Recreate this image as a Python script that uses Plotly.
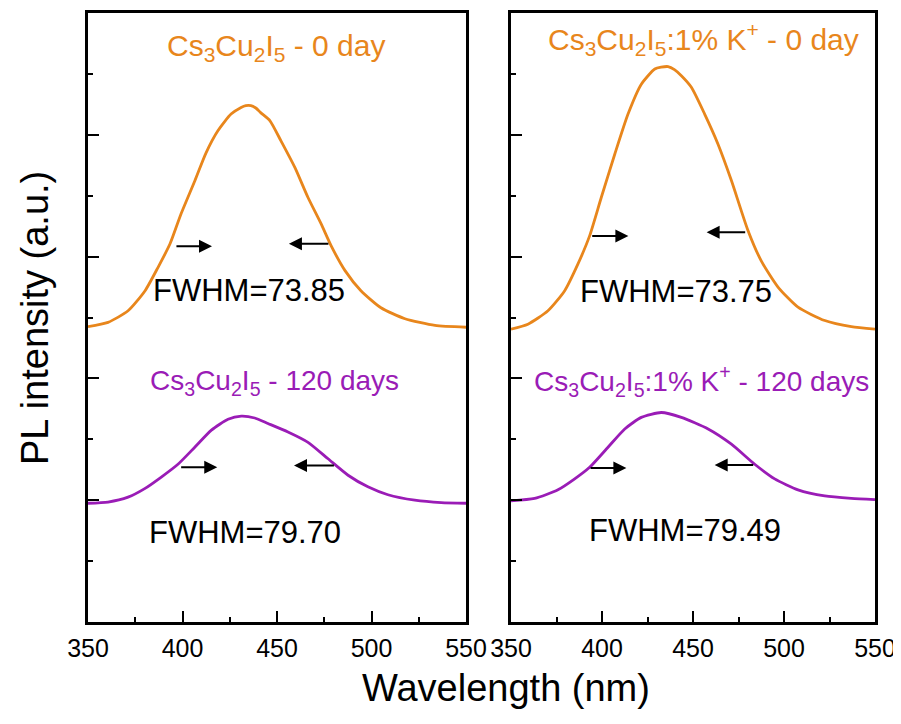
import plotly.graph_objects as go

# ---------------- data ----------------
wl_L0 = [350.0, 360.6, 371.2, 380.2, 387.0, 393.4, 399.2, 406.6, 412.4, 418.8, 425.7, 431.0, 433.5, 436.2,
         438.8, 441.5, 446.3, 452.1, 459.5, 466.4, 473.3, 478.6, 486.0, 494.4, 505.0, 517.7, 533.6, 550.0]
pl_L0 = [4.85, 4.92, 5.11, 5.44, 5.82, 6.21, 6.70, 7.25, 7.70, 8.07, 8.34, 8.45, 8.48, 8.48,
         8.44, 8.36, 8.23, 7.90, 7.46, 6.97, 6.54, 6.18, 5.77, 5.44, 5.16, 4.98, 4.87, 4.84]

wl_L120 = [350.0, 360.6, 371.2, 380.0, 388.8, 397.6, 406.5, 415.3, 424.1, 431.1, 438.2, 445.2, 455.8,
           466.4, 477.0, 487.6, 498.1, 508.7, 522.9, 536.9, 550.0]
pl_L120 = [1.95, 1.97, 2.05, 2.19, 2.38, 2.59, 2.87, 3.15, 3.33, 3.38, 3.35, 3.26, 3.12,
           2.95, 2.68, 2.41, 2.22, 2.09, 2.00, 1.96, 1.95]

wl_R0 = [350.0, 359.3, 370.3, 379.5, 386.8, 393.2, 399.6, 407.0, 414.3, 421.6, 429.0, 432.5, 436.3, 439.8,
         443.6, 449.1, 456.4, 463.7, 471.1, 480.2, 487.5, 496.7, 507.7, 522.4, 537.0, 550.0]
pl_R0 = [4.81, 4.89, 5.11, 5.44, 5.88, 6.34, 6.97, 7.68, 8.34, 8.83, 9.08, 9.11, 9.12, 9.07,
         8.97, 8.78, 8.34, 7.85, 7.25, 6.43, 5.93, 5.50, 5.17, 4.95, 4.85, 4.81]

wl_R120 = [350.0, 363.0, 375.8, 385.0, 393.2, 403.3, 412.5, 421.6, 432.6, 443.6, 458.3, 471.1, 483.9,
           494.9, 507.7, 522.4, 537.0, 550.0]
pl_R120 = [1.99, 2.03, 2.17, 2.35, 2.54, 2.87, 3.17, 3.36, 3.44, 3.36, 3.17, 2.92, 2.59,
           2.35, 2.17, 2.07, 2.03, 2.01]

# FWHM arrows: (tail_x, head_x, y) for left-side and right-side arrows of each curve
arrows_L0 = [(396.0, 415.6, 6.17), (478.0, 456.3, 6.21)]
arrows_L120 = [(398.5, 418.4, 2.54), (480.9, 459.0, 2.57)]
arrows_R0 = [(393.8, 414.5, 6.34), (479.5, 457.5, 6.40)]
arrows_R120 = [(392.9, 413.4, 2.53), (483.9, 461.9, 2.58)]

fwhm_labels = ["FWHM=73.85", "FWHM=79.70", "FWHM=73.75", "FWHM=79.49"]
titles = ["Cs<sub>3</sub>Cu<sub>2</sub>I<sub>5</sub> - 0 day",
          "Cs<sub>3</sub>Cu<sub>2</sub>I<sub>5</sub> - 120 days",
          "Cs<sub>3</sub>Cu<sub>2</sub>I<sub>5</sub>:1% K<sup>+</sup> - 0 day",
          "Cs<sub>3</sub>Cu<sub>2</sub>I<sub>5</sub>:1% K<sup>+</sup> - 120 days"]

x_ticks = [350, 400, 450, 500, 550]
x_minor = [375, 425, 475, 525]
y_ticks = [0, 2, 4, 6, 8, 10]
y_minor = [1, 3, 5, 7, 9]

ORANGE = "#E8861C"
PURPLE = "#9A1CB6"
FONT = "Liberation Sans, Arial, sans-serif"

W, H = 901, 724
OFF = 8  # page body margin


def fx(px):
    return (px - OFF) / W


def fy(py):
    return 1 - (py - OFF) / H


fig = go.Figure()
for wl, pl, col, xa, ya in [(wl_L0, pl_L0, ORANGE, "x", "y"), (wl_L120, pl_L120, PURPLE, "x", "y"),
                            (wl_R0, pl_R0, ORANGE, "x2", "y2"), (wl_R120, pl_R120, PURPLE, "x2", "y2")]:
    fig.add_trace(go.Scatter(x=wl, y=pl, mode="lines", line=dict(color=col, width=2.8, shape="spline", smoothing=0.6),
                             xaxis=xa, yaxis=ya, showlegend=False, hoverinfo="skip"))

anns = []
for arrs, xr, yr in [(arrows_L0, "x", "y"), (arrows_L120, "x", "y"), (arrows_R0, "x2", "y2"), (arrows_R120, "x2", "y2")]:
    for tail, head, yv in arrs:
        anns.append(dict(x=head, y=yv, ax=tail, ay=yv, xref=xr, yref=yr, axref=xr, ayref=yr,
                         text="", showarrow=True, arrowhead=2, arrowsize=1.3, arrowwidth=2, arrowcolor="black"))

fwhm_pos = [(435.2, 5.44, "x", "y"), (433.1, 1.47, "x", "y"), (440.8, 5.43, "x2", "y2"), (445.6, 1.51, "x2", "y2")]
for lab, (xv, yv, xr, yr) in zip(fwhm_labels, fwhm_pos):
    anns.append(dict(x=xv, y=yv, xref=xr, yref=yr, text=lab, showarrow=False, xanchor="center", yanchor="middle",
                     font=dict(family=FONT, size=31, color="black")))

title_pos = [(449.5, 9.44, "x", "y", ORANGE, 30), (448.7, 3.93, "x", "y", PURPLE, 28),
             (455.8, 9.57, "x2", "y2", ORANGE, 30), (454.7, 3.96, "x2", "y2", PURPLE, 28)]
for lab, (xv, yv, xr, yr, col, fs) in zip(titles, title_pos):
    anns.append(dict(x=xv, y=yv, xref=xr, yref=yr, text=lab, showarrow=False, xanchor="center", yanchor="middle",
                     font=dict(family=FONT, size=fs, color=col)))

anns.append(dict(x=fx(506), y=fy(688), xref="paper", yref="paper", text="Wavelength (nm)",
                 xanchor="center", yanchor="middle",
                 showarrow=False, font=dict(family=FONT, size=38, color="black")))
anns.append(dict(x=fx(35), y=fy(318), xref="paper", yref="paper", text="PL intensity (a.u.)",
                 xanchor="center", yanchor="middle",
                 textangle=-90, showarrow=False, font=dict(family=FONT, size=38, color="black")))

xcommon = dict(range=[350, 550], tickmode="array", tickvals=x_ticks, ticktext=[str(v) for v in x_ticks],
               ticks="inside", ticklen=11, tickwidth=2, tickcolor="black", automargin=False,
               minor=dict(tickvals=x_minor, ticks="inside", ticklen=5, tickwidth=2, tickcolor="black"),
               showline=True, linecolor="black", linewidth=2.5, mirror=True, showgrid=False, zeroline=False,
               tickfont=dict(family=FONT, size=25, color="black"), ticklabelstandoff=2)
ycommon = dict(range=[0, 10], tickmode="array", tickvals=y_ticks, ticks="inside", ticklen=11, tickwidth=2,
               tickcolor="black", showticklabels=False, automargin=False,
               minor=dict(tickvals=y_minor, ticks="inside", ticklen=5, tickwidth=2, tickcolor="black"),
               showline=True, linecolor="black", linewidth=2.5, mirror=True, showgrid=False, zeroline=False)

fig.update_layout(
    template="none",
    width=W, height=H, autosize=False,
    margin=dict(l=0, r=0, t=0, b=0, pad=0, autoexpand=False),
    paper_bgcolor="white", plot_bgcolor="white",
    xaxis=dict(domain=[fx(88), fx(466)], anchor="y", **xcommon),
    yaxis=dict(domain=[fy(622), fy(13)], anchor="x", **ycommon),
    xaxis2=dict(domain=[fx(511), fx(875)], anchor="y2", **xcommon),
    yaxis2=dict(domain=[fy(622), fy(13)], anchor="x2", **ycommon),
    annotations=anns,
    showlegend=False,
)

fig.write_html("out.html")
